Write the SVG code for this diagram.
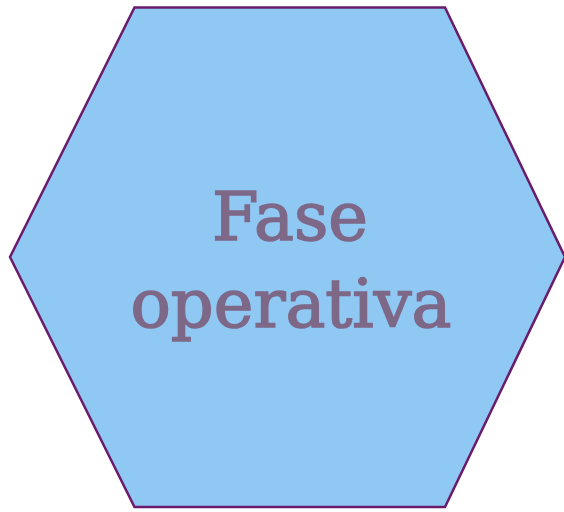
<svg xmlns="http://www.w3.org/2000/svg" width="564" height="512" viewBox="0 0 564 512">
<style>
.hex{fill:#90c8f4;stroke:#6b1b6b;stroke-width:2.5}
.lbl{font-family:"DejaVu Serif","Liberation Serif",serif;font-size:67px;fill:#7e6888;stroke:#7e6888;stroke-width:1.6;text-anchor:middle}
</style>
<rect width="564" height="512" fill="#ffffff"/>
<g id="node-fase-operativa">
<polygon class="hex" points="134.5,7.5 445,7.5 565,257 445,507 134.5,507 10,257"/>
<text class="lbl" x="290" y="240">Fase</text>
<text class="lbl" x="291" y="327">operativa</text>
</g>
<g id="connectors"></g>
</svg>
